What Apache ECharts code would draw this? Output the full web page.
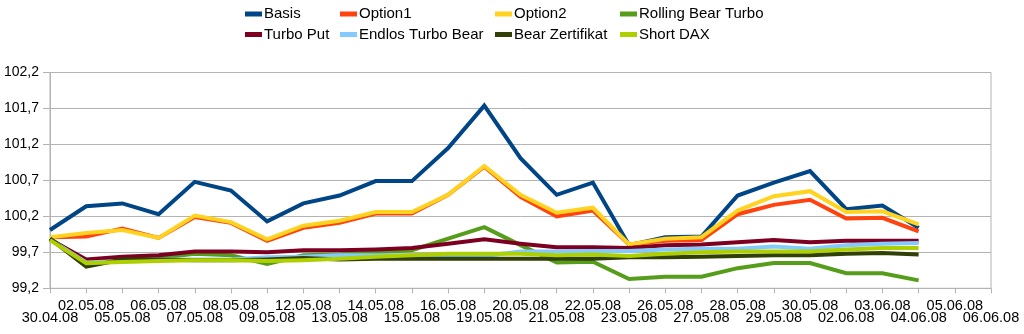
<!DOCTYPE html>
<html>
<head>
<meta charset="utf-8">
<title>Basis vs. Bear-Produkte</title>
<script src="https://cdn.jsdelivr.net/npm/echarts@6/dist/echarts.min.js"></script>
<style>
  html, body { margin: 0; padding: 0; background: #fff; }
  #chart { width: 1024px; height: 334px; }
</style>
</head>
<body>
<div id="chart"></div>
<script>
// Trading days
const categories = ['30.04.08','02.05.08','05.05.08','06.05.08','07.05.08','08.05.08','09.05.08',
  '12.05.08','13.05.08','14.05.08','15.05.08','16.05.08','19.05.08','20.05.08','21.05.08',
  '22.05.08','23.05.08','26.05.08','27.05.08','28.05.08','29.05.08','30.05.08','02.06.08',
  '03.06.08','04.06.08','05.06.08','06.06.08'];

// Indexed values per product
const basis = [100.01, 100.34, 100.38, 100.23, 100.68, 100.56, 100.13, 100.38, 100.49, 100.69, 100.69, 101.15, 101.74,
  101.01, 100.50, 100.67, 99.80, 99.91, 99.92, 100.49, 100.67, 100.83, 100.30, 100.35, 100.04];
const option1 = [99.91, 99.92, 100.03, 99.90, 100.19, 100.11, 99.86, 100.04, 100.11, 100.24, 100.24, 100.50, 100.89,
  100.47, 100.20, 100.28, 99.81, 99.86, 99.87, 100.23, 100.36, 100.43, 100.17, 100.18, 99.99];
const option2 = [99.91, 99.97, 100.01, 99.90, 100.21, 100.12, 99.88, 100.07, 100.14, 100.26, 100.26, 100.50, 100.90,
  100.50, 100.25, 100.32, 99.81, 99.89, 99.91, 100.28, 100.48, 100.55, 100.26, 100.27, 100.09];
const rollingBearTurbo = [99.89, 99.57, 99.61, 99.62, 99.68, 99.66, 99.54, 99.66, 99.67, 99.70, 99.73, 99.89, 100.05,
  99.80, 99.56, 99.57, 99.33, 99.36, 99.36, 99.48, 99.55, 99.55, 99.41, 99.41, 99.31];
const turboPut = [99.88, 99.60, 99.64, 99.66, 99.71, 99.71, 99.70, 99.73, 99.73, 99.74, 99.76, 99.82, 99.88,
  99.82, 99.77, 99.77, 99.76, 99.80, 99.81, 99.84, 99.87, 99.84, 99.86, 99.86, 99.86];
const endlosTurboBear = [99.88, 99.56, 99.58, 99.60, 99.60, 99.60, 99.63, 99.64, 99.66, 99.66, 99.66, 99.64, 99.65,
  99.71, 99.71, 99.72, 99.72, 99.74, 99.75, 99.75, 99.78, 99.75, 99.80, 99.82, 99.83];
const bearZertifikat = [99.89, 99.50, 99.60, 99.60, 99.59, 99.59, 99.60, 99.62, 99.60, 99.61, 99.61, 99.61, 99.61,
  99.61, 99.61, 99.61, 99.63, 99.63, 99.64, 99.65, 99.66, 99.66, 99.68, 99.69, 99.67];
const shortDax = [99.87, 99.55, 99.565, 99.58, 99.59, 99.59, 99.58, 99.59, 99.61, 99.64, 99.66, 99.68, 99.68,
  99.68, 99.66, 99.67, 99.65, 99.68, 99.70, 99.71, 99.71, 99.71, 99.74, 99.76, 99.76];

// Value axis ticks
const yMin = 99.2, yMax = 102.2, yStep = 0.5;

const seriesDefs = [
  { name: 'Basis', data: basis, color: '#004586' },
  { name: 'Option1', data: option1, color: '#ff420e' },
  { name: 'Option2', data: option2, color: '#ffd320' },
  { name: 'Rolling Bear Turbo', data: rollingBearTurbo, color: '#579d1c' },
  { name: 'Turbo Put', data: turboPut, color: '#7e0021' },
  { name: 'Endlos Turbo Bear', data: endlosTurboBear, color: '#83caff' },
  { name: 'Bear Zertifikat', data: bearZertifikat, color: '#314004' },
  { name: 'Short DAX', data: shortDax, color: '#aecf00' }
];

const FONT = '"Liberation Sans", Arial, sans-serif';
const legendCols = [245, 340, 495, 620];
const legendRows = [6.5, 27];

// one legend block per entry so the four columns line up in both rows
const legends = seriesDefs.map((s, i) => ({
  data: [s.name],
  left: legendCols[i % 4],
  top: legendRows[Math.floor(i / 4)],
  padding: 0,
  icon: 'rect',
  itemWidth: 17,
  itemHeight: 5,
  selectedMode: false,
  textStyle: { fontFamily: FONT, fontSize: 15, color: '#000', padding: [0, 0, 0, -3] }
}));

const chart = echarts.init(document.getElementById('chart'), null, { renderer: 'canvas' });
chart.setOption({
  animation: false,
  backgroundColor: '#fff',
  legend: legends,
  grid: {
    left: 50, right: 33, top: 72.5, bottom: 45.7,
    show: true, borderColor: '#b3b3b3', borderWidth: 1, containLabel: false
  },
  xAxis: {
    type: 'category',
    data: categories,
    boundaryGap: false,
    axisLine: { lineStyle: { color: '#b3b3b3', width: 1 } },
    axisTick: { show: true, interval: 0, length: 5, lineStyle: { color: '#b3b3b3' } },
    axisLabel: {
      interval: 0,
      margin: 12,
      fontFamily: FONT,
      fontSize: 14.5,
      lineHeight: 12,
      color: '#000',
      // alternate labels between an upper and a lower row
      formatter: (val, idx) => (idx % 2 ? val + '\n ' : ' \n' + val)
    },
    splitLine: { show: false }
  },
  yAxis: {
    type: 'value',
    min: yMin,
    max: yMax,
    interval: yStep,
    axisLine: { show: true, lineStyle: { color: '#b3b3b3', width: 1 } },
    axisTick: { show: true, length: 7, lineStyle: { color: '#b3b3b3' } },
    axisLabel: {
      margin: 11,
      fontFamily: FONT,
      fontSize: 14,
      color: '#000',
      formatter: v => v.toFixed(1).replace('.', ',')
    },
    splitLine: { show: true, lineStyle: { color: '#b3b3b3', width: 1 } }
  },
  series: seriesDefs.map(s => ({
    name: s.name,
    type: 'line',
    data: s.data,
    symbol: 'none',
    smooth: false,
    color: s.color,
    lineStyle: { color: s.color, width: 4, join: 'miter' },
    emphasis: { disabled: true }
  }))
});
</script>
</body>
</html>
